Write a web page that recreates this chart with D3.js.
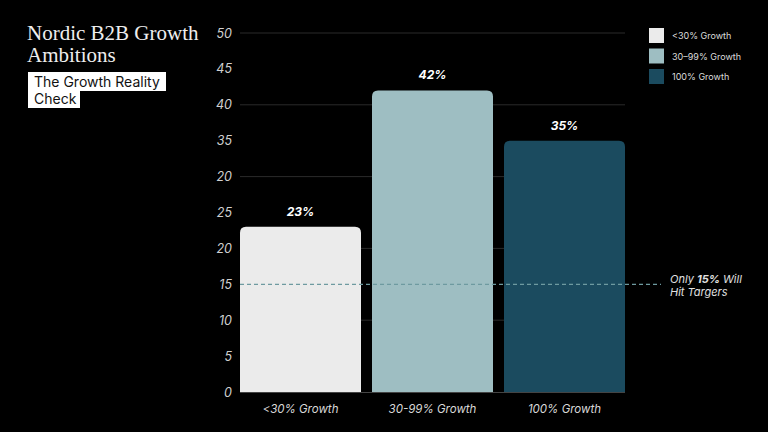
<!DOCTYPE html>
<html><head><meta charset="utf-8">
<script src="https://cdn.jsdelivr.net/npm/d3@7"></script>
<style>
html,body{margin:0;padding:0;background:#000;}
svg{display:block;}
</style></head>
<body>
<svg id="c" width="768" height="432"></svg>
<script>
const categories = ["<30% Growth", "30-99% Growth", "100% Growth"];
const values = [23, 42, 35];
const valueLabels = ["23%", "42%", "35%"];
const colors = ["#ebebeb", "#9ebec2", "#1b4b5f"];
const tickValues = [0, 5, 10, 15, 20, 25, 30, 35, 40, 45, 50];
const tickLabels = ["0", "5", "10", "15", "20", "25", "20", "35", "40", "45", "50"];
const gridValues = [10, 20, 30, 40, 50];
const targetValue = 15;

const svg = d3.select("#c");
const x = d3.scaleBand().domain(categories).range([240, 625]).paddingInner(11/132).paddingOuter(0);
const y = d3.scaleLinear().domain([0, 50]).range([392, 33]);

// gridlines
svg.append("g").selectAll("line").data(gridValues).join("line")
  .attr("x1", 240).attr("x2", 625)
  .attr("y1", d => y(d)).attr("y2", d => y(d))
  .attr("stroke", "#2a2a2a").attr("stroke-width", 1);

// y axis labels
const yAxis = d3.axisLeft(y).tickValues(tickValues)
  .tickFormat((d, i) => tickLabels[i]).tickSize(0).tickPadding(8);
const ga = svg.append("g").attr("transform", "translate(240,0)").call(yAxis);
ga.select(".domain").remove();
ga.selectAll("text").attr("fill", "#d0d0d0").attr("font-size", 12.5)
  .attr("font-style", "italic").attr("font-family", "Inter, 'Noto Sans', sans-serif");

// bars with rounded top corners
const r = 6;
function barPath(x0, w, yt, yb) {
  return `M${x0},${yb}V${yt + r}Q${x0},${yt} ${x0 + r},${yt}H${x0 + w - r}Q${x0 + w},${yt} ${x0 + w},${yt + r}V${yb}Z`;
}
svg.append("g").selectAll("path").data(categories).join("path")
  .attr("d", (d, i) => barPath(x(d), x.bandwidth(), y(values[i]), y(0)))
  .attr("fill", (d, i) => colors[i]);

// baseline
svg.append("line").attr("x1", 240).attr("x2", 625).attr("y1", y(0) + 0.5).attr("y2", y(0) + 0.5)
  .attr("stroke", "#444").attr("stroke-width", 1);

// value labels
svg.append("g").selectAll("text").data(categories).join("text")
  .attr("x", d => x(d) + x.bandwidth() / 2)
  .attr("y", (d, i) => y(values[i]) - 11)
  .attr("text-anchor", "middle").attr("fill", "#fff")
  .attr("font-size", 12).attr("font-weight", "bold").attr("font-style", "italic")
  .attr("font-family", "Inter, 'Noto Sans', sans-serif")
  .text((d, i) => valueLabels[i]);

// x labels
svg.append("g").selectAll("text").data(categories).join("text")
  .attr("x", d => x(d) + x.bandwidth() / 2)
  .attr("y", 413)
  .attr("text-anchor", "middle").attr("fill", "#d8d8d8")
  .attr("font-size", 11.5).attr("font-style", "italic")
  .attr("font-family", "Inter, 'Noto Sans', sans-serif")
  .text(d => d);

// target dashed line
svg.append("line").attr("x1", 240).attr("x2", 661)
  .attr("y1", y(targetValue)).attr("y2", y(targetValue))
  .attr("stroke", "#6e9aa0").attr("stroke-width", 1.3).attr("stroke-dasharray", "4,3");

// annotation
const ann = svg.append("text").attr("x", 670).attr("y", 283)
  .attr("fill", "#e0e0e0").attr("font-size", 11).attr("font-style", "italic")
  .attr("font-family", "Inter, 'Noto Sans', sans-serif");
ann.append("tspan").text("Only ");
ann.append("tspan").attr("font-weight", "bold").text(targetValue + "%");
ann.append("tspan").text(" Will");
svg.append("text").attr("x", 670).attr("y", 296)
  .attr("fill", "#e0e0e0").attr("font-size", 11).attr("font-style", "italic")
  .attr("font-family", "Inter, 'Noto Sans', sans-serif").text("Hit Targers");

// legend
const lg = svg.append("g").selectAll("g").data(categories).join("g")
  .attr("transform", (d, i) => `translate(649,${28 + i * 20.5})`);
lg.append("rect").attr("width", 15).attr("height", 15).attr("fill", (d, i) => colors[i]);
lg.append("text").attr("x", 23).attr("y", 11).attr("fill", "#dcdcdc").attr("font-size", 9)
  .attr("font-family", "Inter, 'Noto Sans', sans-serif")
  .text((d, i) => d.replace("30-99", "30–99"));

// title
const tt = svg.append("text").attr("fill", "#eeeeee").attr("font-size", 21)
  .attr("font-family", "'Liberation Serif', 'DejaVu Serif', serif");
tt.append("tspan").attr("x", 27).attr("y", 40).text("Nordic B2B Growth");
tt.append("tspan").attr("x", 27).attr("y", 62).text("Ambitions");

// subtitle boxes
svg.append("rect").attr("x", 28).attr("y", 72).attr("width", 138).attr("height", 19).attr("fill", "#fff");
svg.append("rect").attr("x", 28).attr("y", 89).attr("width", 52).attr("height", 19).attr("fill", "#fff");
const st = svg.append("text").attr("fill", "#111").attr("font-size", 14)
  .attr("font-family", "Inter, 'Noto Sans', sans-serif");
st.append("tspan").attr("x", 34).attr("y", 87).text("The Growth Reality");
st.append("tspan").attr("x", 34).attr("y", 104).text("Check");
</script>
</body></html>
